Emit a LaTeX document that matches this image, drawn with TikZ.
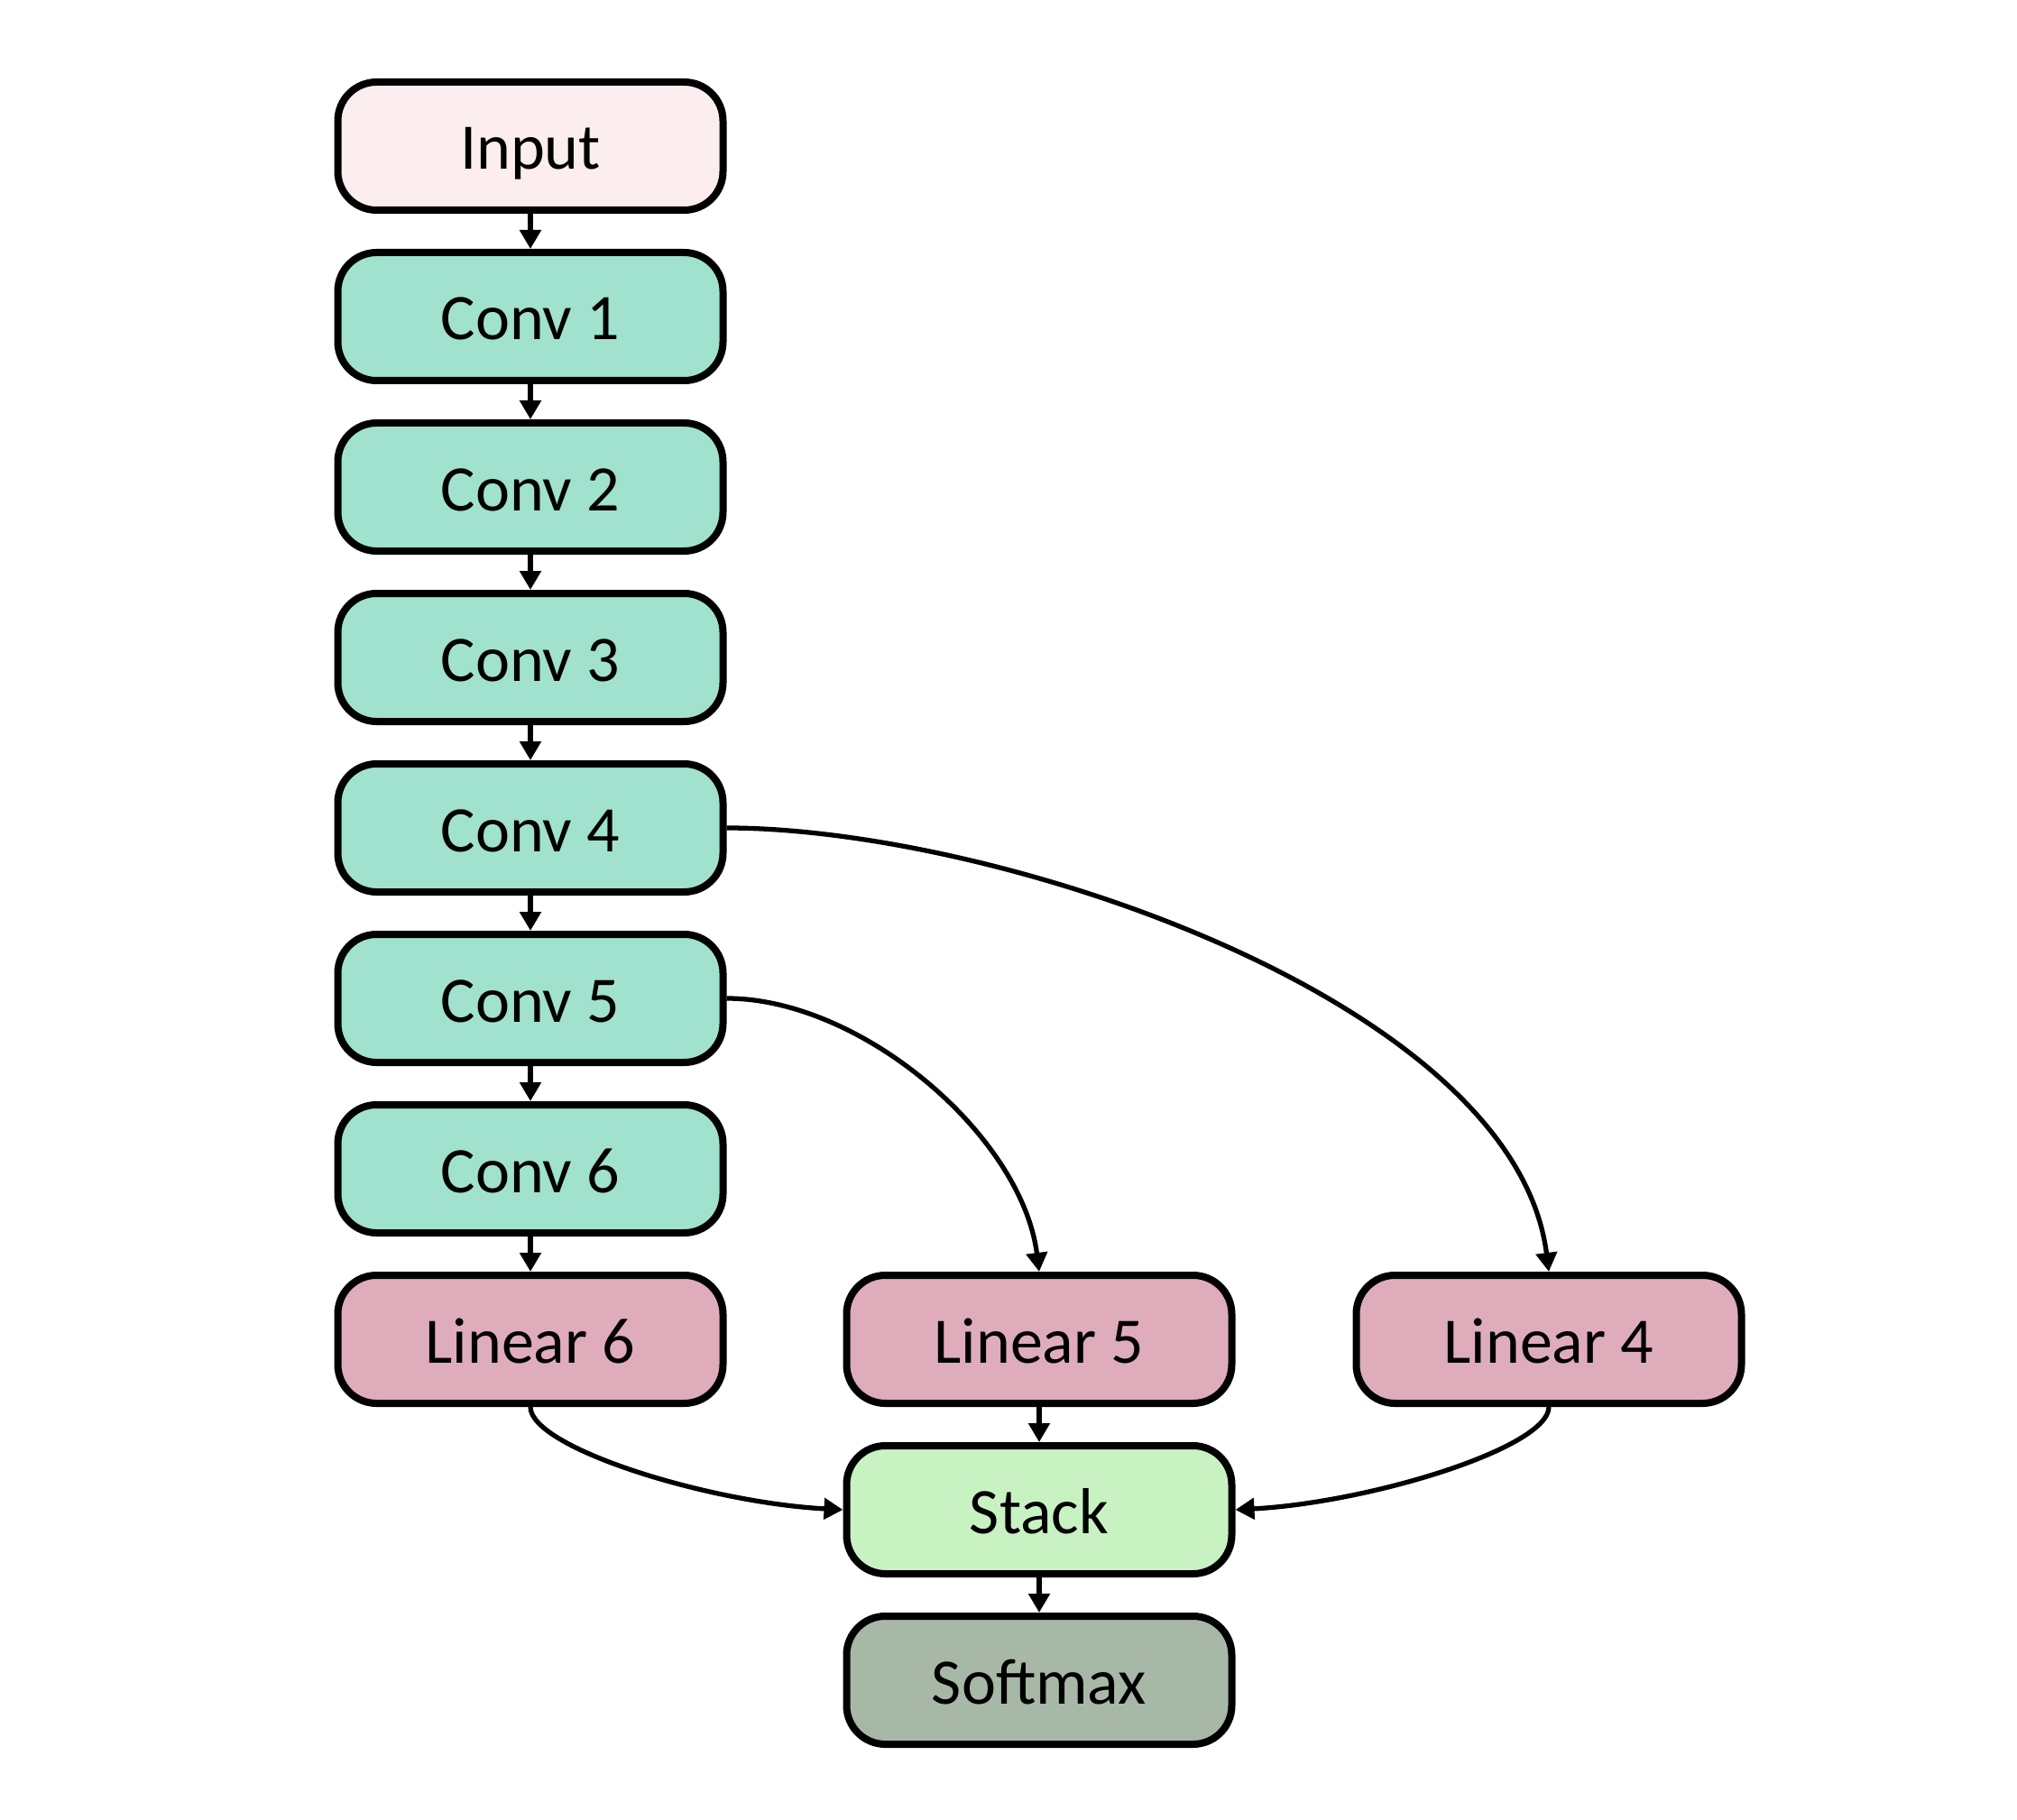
\documentclass[tikz,border=0pt]{standalone}
\usepackage{fontspec}
\setmainfont{Carlito}
\definecolor{inputpink}{RGB}{252,238,238}
\definecolor{convgreen}{RGB}{160,226,206}
\definecolor{linearpink}{RGB}{223,172,188}
\definecolor{stackgreen}{RGB}{200,242,194}
\definecolor{softgray}{RGB}{168,184,166}
\usepackage{tikz}
\usetikzlibrary{arrows.meta,positioning}

\begin{document}
\begin{tikzpicture}[every node/.style={font=\fontsize{20.5}{24}\selectfont},
    layer/.style={draw, line width=0.08cm, rounded corners=0.43cm, minimum width=4.27cm, minimum height=1.42cm, text height=0.6cm, text depth=0.08cm},
    conn/.style={line width=1.5pt, -{Triangle[length=2.1mm,width=2.3mm]}}]
    \useasboundingbox (0,0) rectangle (22.36,-20.18);

    % Main column
    \node[layer, fill=inputpink] (input) at (5.88,-1.62) {Input};
    \node[layer, fill=convgreen] (conv1) at (5.88,-3.51) {Conv 1};
    \node[layer, fill=convgreen] (conv2) at (5.88,-5.40) {Conv 2};
    \node[layer, fill=convgreen] (conv3) at (5.88,-7.29) {Conv 3};
    \node[layer, fill=convgreen] (conv4) at (5.88,-9.18) {Conv 4};
    \node[layer, fill=convgreen] (conv5) at (5.88,-11.07) {Conv 5};
    \node[layer, fill=convgreen] (conv6) at (5.88,-12.96) {Conv 6};

    % Linear heads
    \node[layer, fill=linearpink] (lin6) at (5.88,-14.85) {Linear 6};
    \node[layer, fill=linearpink] (lin5) at (11.52,-14.85) {Linear 5};
    \node[layer, fill=linearpink] (lin4) at (17.17,-14.85) {Linear 4};

    % Output
    \node[layer, fill=stackgreen] (stack) at (11.52,-16.74) {Stack};
    \node[layer, fill=softgray] (softmax) at (11.52,-18.63) {Softmax};

    % Straight connections
    \draw[conn] (input) -- (conv1);
    \draw[conn] (conv1) -- (conv2);
    \draw[conn] (conv2) -- (conv3);
    \draw[conn] (conv3) -- (conv4);
    \draw[conn] (conv4) -- (conv5);
    \draw[conn] (conv5) -- (conv6);
    \draw[conn] (conv6) -- (lin6);
    \draw[conn] (lin5) -- (stack);
    \draw[conn] (stack) -- (softmax);

    % Skip branches
    \draw[conn] (conv4.east) .. controls +(3,0) and +(-0.38,3) .. (lin4.north);
    \draw[conn] (conv5.east) .. controls +(1.5,0) and +(-0.19,1.5) .. (lin5.north);
    \draw[conn] (lin6.south) .. controls +(0,-0.45) and +(-1.5,0.08) .. (stack.west);
    \draw[conn] (lin4.south) .. controls +(0,-0.45) and +(1.5,0.08) .. (stack.east);
\end{tikzpicture}
\end{document}
